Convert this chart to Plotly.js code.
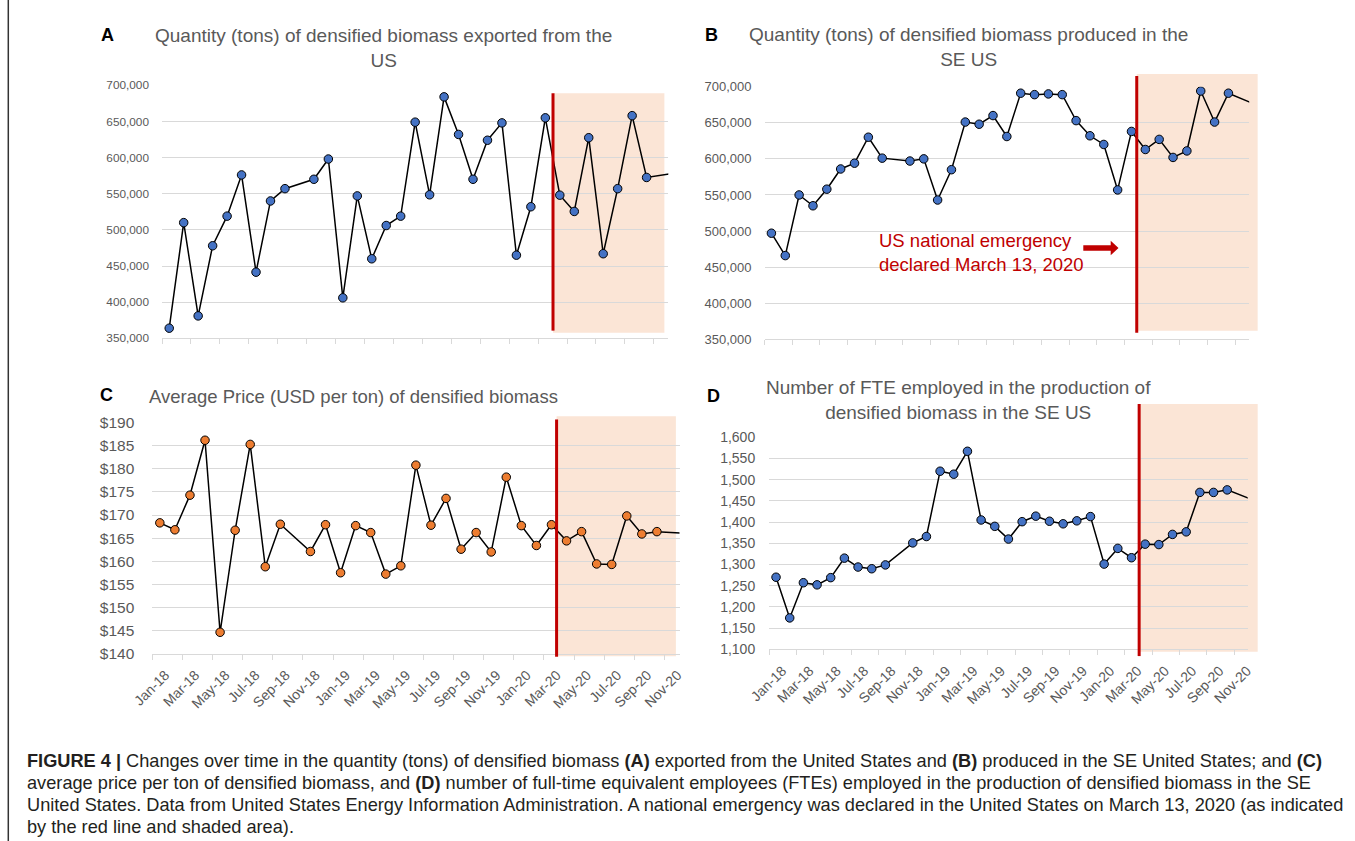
<!DOCTYPE html>
<html><head><meta charset="utf-8">
<script src="https://cdn.plot.ly/plotly-3.0.1.min.js"></script>
<style>html,body{margin:0;padding:0;background:#fff;}#chart{width:1355px;height:841px;}</style>
</head><body><div id="chart"></div>
<script>
// ---------- data ----------
const months = ['Jan-18','Feb-18','Mar-18','Apr-18','May-18','Jun-18','Jul-18','Aug-18','Sep-18','Oct-18','Nov-18','Dec-18',
  'Jan-19','Feb-19','Mar-19','Apr-19','May-19','Jun-19','Jul-19','Aug-19','Sep-19','Oct-19','Nov-19','Dec-19',
  'Jan-20','Feb-20','Mar-20','Apr-20','May-20','Jun-20','Jul-20','Aug-20','Sep-20','Oct-20','Nov-20','Dec-20'];
const exportedTons = [364000,510000,381000,478000,519000,576000,441500,540000,557000,null,570000,598000,
  406000,547000,460000,506000,519000,649000,548500,684000,632000,570000,624000,648000,
  465000,532000,655000,548000,525500,627500,467000,557000,658000,572500,null,578500];
const producedTons = [497000,466000,550000,535000,558000,586000,594000,630000,601000,null,597000,600000,
  543000,585000,651000,648000,660000,631000,691000,689000,690000,689000,653000,632000,
  620000,557000,638000,613000,627000,602000,611000,694000,651000,691000,null,675000];
const priceUSD = [168.3,166.8,174.3,186.2,144.6,166.7,185.3,158.8,168.0,null,162.1,167.9,
  157.5,167.7,166.2,157.2,159.0,180.8,167.8,173.6,162.6,166.2,162.0,178.2,
  167.7,163.4,167.9,164.4,166.4,159.4,159.3,169.8,165.9,166.4,null,166.0];
const fteCount = [1270,1174,1257,1252,1269,1315,1294,1290,1299,null,1351,1366,
  1520,1513,1567,1405,1390,1360,1401,1414,1402,1396,1403,1413,
  1301,1338,1316,1348,1347,1371,1377,1470,1470,1476,null,1451];
const titles = {
  A: 'Quantity (tons) of densified biomass exported from the<br>US',
  B: 'Quantity (tons) of densified biomass produced in the<br>SE US',
  C: 'Average Price (USD per ton) of densified biomass',
  D: 'Number of FTE employed in the production of<br>densified biomass in the SE US'
};
const emergencyText = 'US national emergency<br>declared March 13, 2020';
const captionLines = [
  '<b>FIGURE 4 |</b> Changes over time in the quantity (tons) of densified biomass <b>(A)</b> exported from the United States and <b>(B)</b> produced in the SE United States; and <b>(C)</b>',
  'average price per ton of densified biomass, and <b>(D)</b> number of full-time equivalent employees (FTEs) employed in the production of densified biomass in the SE',
  'United States. Data from United States Energy Information Administration. A national emergency was declared in the United States on March 13, 2020 (as indicated',
  'by the red line and shaded area).'
];

// ---------- layout helpers ----------
const W = 1355, H = 841;
const px = p => p / W;
const py = p => 1 - p / H;
const FONT = 'Liberation Sans, Arial, sans-serif';
const GRAY = '#595959', GRID = '#d9d9d9', RED = '#C00000', SHADE = 'rgb(251,229,214)';
const xIdx = months.map((m, i) => i);
const XR = [-0.5, 34.5];
const tickIdx = xIdx.filter(i => i % 2 === 0 && i < 35);
const tickVals = tickIdx.map(i => i - 0.5);
const tickText = tickIdx.map(i => months[i]);

function xAxis(dom, anchor, labels) {
  return {domain: [px(dom[0]), px(dom[1])], anchor, range: XR, tickmode: 'array',
    tickvals: tickVals, ticktext: tickText, showticklabels: labels, ticks: 'outside', ticklen: 5,
    tickcolor: GRID, tickwidth: 1, showline: true, linecolor: GRID, linewidth: 1, showgrid: false,
    zeroline: false, tickangle: -45, ticklabelshift: 13, ticklabelstandoff: 2,
    tickfont: {family: FONT, size: 14, color: GRAY}, fixedrange: true};
}
function yAxis(dom, anchor, range, dtick, size, standoff, extra) {
  return Object.assign({domain: [py(dom[1]), py(dom[0])], anchor, range, tickmode: 'linear',
    tick0: range[0], dtick, showgrid: true, gridcolor: GRID, gridwidth: 1, ticks: '',
    showline: false, zeroline: false, ticklabelstandoff: standoff,
    tickfont: {family: FONT, size, color: GRAY}, fixedrange: true}, extra || {});
}
const RA = [350000, 700000], RB = [350000, 700000], RC = [140, 190], RD = [1100, 1600];

function series(y, xa, ya, color) {
  return {x: xIdx, y, xaxis: xa, yaxis: ya, type: 'scatter', mode: 'lines+markers', connectgaps: true,
    line: {color: '#000', width: 1.5}, marker: {size: 8.5, color, line: {color: '#000', width: 1}},
    hoverinfo: 'skip', showlegend: false};
}
const BLUE = '#4472C4', ORANGE = '#ED7D31';
const data = [
  series(exportedTons, 'x', 'y', BLUE),
  series(producedTons, 'x2', 'y2', BLUE),
  series(priceUSD, 'x3', 'y3', ORANGE),
  series(fteCount, 'x4', 'y4', BLUE)
];

const fx = v => (v - XR[0]) / (XR[1] - XR[0]);
const fy = (v, r) => (v - r[0]) / (r[1] - r[0]);
function emergency(n, r, lineX, lineY, shadeX1, shadeY) {
  const xr = (n === 1 ? 'x' : 'x' + n) + ' domain', yr = (n === 1 ? 'y' : 'y' + n) + ' domain';
  return [
    {type: 'rect', xref: xr, yref: yr, x0: fx(lineX), x1: fx(shadeX1), y0: fy(shadeY[0], r), y1: fy(shadeY[1], r),
      fillcolor: SHADE, line: {width: 0}, layer: 'below'},
    {type: 'line', xref: xr, yref: yr, x0: fx(lineX), x1: fx(lineX), y0: fy(lineY[0], r), y1: fy(lineY[1], r),
      line: {color: RED, width: 3}, layer: 'above'}
  ];
}
const shapes = [].concat(
  emergency(1, RA, 26.53, [360600, 689000], 34.23, [357800, 689000]),
  emergency(2, RB, 26.38, [359000, 714800], 35.11, [362000, 717500]),
  emergency(3, RC, 26.34, [139.3, 190.7], 34.26, [139.4, 191.4]),
  emergency(4, RD, 26.56, [1084, 1678.6], 35.23, [1094.5, 1678.6])
);
// arrow in panel B
const arrowPts = [[1083.3,245.3],[1110.7,245.3],[1110.7,240.7],[1118.5,248],[1110.7,255.3],[1110.7,250.7],[1083.3,250.7]];
shapes.push({type: 'path', xref: 'paper', yref: 'paper', fillcolor: RED, line: {width: 0},
  path: 'M' + arrowPts.map(p => px(p[0]) + ',' + py(p[1])).join('L') + 'Z'});
// left page rule
shapes.push({type: 'line', xref: 'paper', yref: 'paper', x0: px(8.3), x1: px(8.3), y0: 0, y1: 1,
  line: {color: '#333', width: 1.5}});

function ann(text, x, y, size, opts) {
  return Object.assign({text, xref: 'paper', yref: 'paper', x: px(x), y: py(y), showarrow: false,
    font: {family: FONT, size, color: GRAY}, xanchor: 'center', yanchor: 'middle'}, opts || {});
}
const LET = {family: FONT, size: 18, color: '#000'};
const annotations = [
  ann(titles.A, 383.1, 47.8, 19),
  ann(titles.B, 968.8, 47.2, 19),
  ann(titles.C, 147, 396, 18.5, {xanchor: 'left'}),
  ann(titles.D, 958.2, 400, 19),
  ann('<b>A</b>', 107.5, 35, 18, {font: LET}),
  ann('<b>B</b>', 711.5, 35, 18, {font: LET}),
  ann('<b>C</b>', 106.7, 395.3, 18, {font: LET}),
  ann('<b>D</b>', 713.6, 395.9, 18, {font: LET}),
  ann(emergencyText, 877, 252.2, 18.5, {xanchor: 'left', align: 'left', font: {family: FONT, size: 18.5, color: RED}})
];
const capY = [761, 783, 805, 827];
captionLines.forEach((t, i) => annotations.push(
  ann(t, 25, capY[i], 18.2, {xanchor: 'left', align: 'left', font: {family: FONT, size: 18.2, color: '#231f20'}})));

const layout = {
  width: W, height: H, margin: {l: 0, r: 0, t: 0, b: 0}, paper_bgcolor: '#fff', plot_bgcolor: 'rgba(0,0,0,0)',
  showlegend: false, hovermode: false,
  xaxis: xAxis([162, 668.3], 'y', false),
  yaxis: yAxis([85.3, 338.3], 'x', RA, 50000, 11.8, 12, {tickformat: ','}),
  xaxis2: xAxis([764.5, 1249.2], 'y2', false),
  yaxis2: yAxis([86.7, 339.3], 'x2', RB, 50000, 13, 12, {tickformat: ','}),
  xaxis3: xAxis([152.3, 679.5], 'y3', true),
  yaxis3: yAxis([422.7, 653.5], 'x3', RC, 5, 15.5, 17, {tickprefix: '$'}),
  xaxis4: xAxis([769.2, 1247.7], 'y4', true),
  yaxis4: yAxis([437.3, 649.3], 'x4', RD, 50, 14, 13, {tickformat: ','}),
  shapes, annotations
};
Plotly.newPlot('chart', data, layout, {staticPlot: true, displayModeBar: false});
</script></body></html>
